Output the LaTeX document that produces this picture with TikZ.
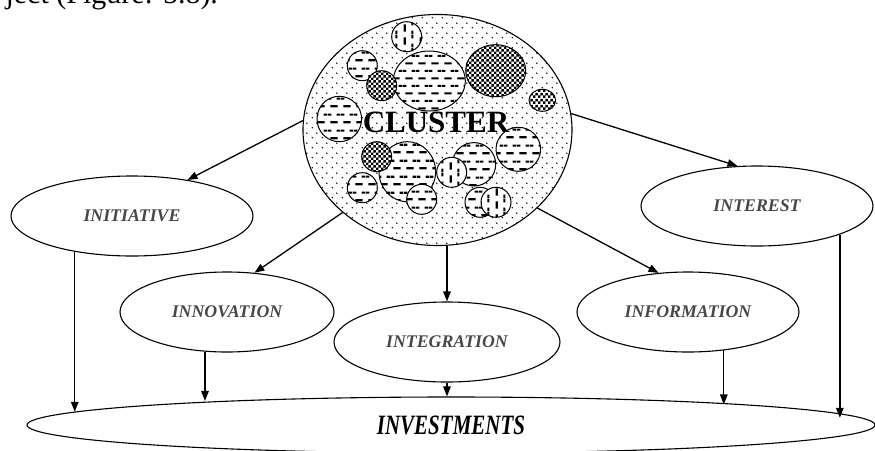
\documentclass[tikz,border=0pt]{standalone}
\usepackage{fontspec}
\setmainfont{Liberation Serif}
\usetikzlibrary{shapes.geometric,arrows.meta,patterns}

% fills for the cluster and its member firms
\pgfdeclarepatternformonly{clusterdots}{\pgfpointorigin}{\pgfqpoint{10pt}{10pt}}{\pgfqpoint{10pt}{10pt}}{%
  \pgfpathcircle{\pgfqpoint{2.5pt}{2.5pt}}{0.85pt}
  \pgfpathcircle{\pgfqpoint{7.5pt}{7.5pt}}{0.85pt}
  \pgfusepath{fill}}
\pgfdeclarepatternformonly{hdash}{\pgfpointorigin}{\pgfqpoint{12.6pt}{15.4pt}}{\pgfqpoint{12.6pt}{15.4pt}}{%
  \pgfpathrectangle{\pgfqpoint{2.5pt}{2.8pt}}{\pgfqpoint{7.3pt}{2.1pt}}
  \pgfpathrectangle{\pgfqpoint{8.8pt}{10.5pt}}{\pgfqpoint{3.8pt}{2.1pt}}
  \pgfpathrectangle{\pgfqpoint{0pt}{10.5pt}}{\pgfqpoint{3.5pt}{2.1pt}}
  \pgfusepath{fill}}
\pgfdeclarepatternformonly{vdash}{\pgfpointorigin}{\pgfqpoint{15.4pt}{12.6pt}}{\pgfqpoint{15.4pt}{12.6pt}}{%
  \pgfpathrectangle{\pgfqpoint{2.8pt}{2.5pt}}{\pgfqpoint{2.1pt}{7.3pt}}
  \pgfpathrectangle{\pgfqpoint{10.5pt}{8.8pt}}{\pgfqpoint{2.1pt}{3.8pt}}
  \pgfpathrectangle{\pgfqpoint{10.5pt}{0pt}}{\pgfqpoint{2.1pt}{3.5pt}}
  \pgfusepath{fill}}
\pgfdeclarepatternformonly{checker}{\pgfpointorigin}{\pgfqpoint{5.4pt}{5.4pt}}{\pgfqpoint{5.4pt}{5.4pt}}{%
  \pgfpathrectangle{\pgfpointorigin}{\pgfqpoint{2.7pt}{2.7pt}}
  \pgfpathrectangle{\pgfqpoint{2.7pt}{2.7pt}}{\pgfqpoint{2.7pt}{2.7pt}}
  \pgfusepath{fill}}

\begin{document}
\begin{tikzpicture}[x=1pt, y=-1pt, line join=round, >={Triangle[length=10pt,width=7.5pt]},
  idea/.style={draw, ellipse, line width=1.1pt, inner sep=0pt, minimum height=80pt,
    text=black!72, font=\fontsize{17.8}{20}\selectfont\bfseries\itshape},
  hd/.style={draw, line width=1pt, preaction={fill=white}, pattern=hdash},
  vd/.style={draw, line width=1pt, preaction={fill=white}, pattern=vdash},
  ck/.style={draw, line width=1pt, preaction={fill=white}, pattern=checker},
  link/.style={->, line width=1.3pt}]
\useasboundingbox (0,0) rectangle (875,450);
\node[anchor=base west, font=\fontsize{30}{36}\selectfont] (caption) at (2,3) {ject (Figure: 5.8).};

\node[draw, ellipse, line width=1.1pt, minimum width=269pt, minimum height=231pt,
  preaction={fill=white}, pattern=clusterdots] (cluster) at (437.5,130) {};
\draw[hd] (429.3,81) ellipse (36pt and 30pt);
\draw[ck] (495.7,70.7) ellipse (30pt and 26pt);
\draw[hd] (339.3,119) ellipse (22.3pt and 22.7pt);
\draw[hd] (362.3,65.7) circle (15pt);
\draw[ck] (381.7,85.7) circle (15pt);
\draw[vd] (406.7,36.7) circle (15pt);
\draw[ck] (542.3,100.3) ellipse (13.3pt and 11pt);
\draw[hd] (407.3,171.7) ellipse (28.3pt and 30pt);
\draw[hd] (474,164.3) circle (21.7pt);
\draw[hd] (518.3,149.3) ellipse (22.3pt and 22pt);
\draw[hd] (362.3,187.7) circle (15pt);
\draw[hd] (421.7,199.3) circle (15pt);
\draw[ck] (376.7,156.7) circle (15pt);
\draw[vd] (451.7,172.3) circle (15pt);
\draw[hd] (480,202.3) circle (15pt);
\draw[vd] (496,202.3) circle (15pt);
\node[font=\fontsize{31}{36}\selectfont\bfseries] (clusterlabel) at (436,122) {CLUSTER};

\node[idea, minimum width=242pt] (initiative) at (132,216) {INITIATIVE};
\node[idea, minimum width=232pt] (interest) at (757,206) {INTEREST};
\node[idea, minimum width=214pt] (innovation) at (227,312) {INNOVATION};
\node[idea, minimum width=226pt] (integration) at (447,342) {INTEGRATION};
\node[idea, minimum width=222pt] (information) at (688,312) {INFORMATION};
\node[draw, ellipse, line width=1.1pt, inner sep=0pt, minimum width=848pt, minimum height=56pt,
  font=\fontsize{28}{32}\selectfont\bfseries\itshape] (investments) at (451,425) {\scalebox{0.75}[1]{INVESTMENTS}};

\draw[link] (cluster.176.6) -- (initiative.33.5);
\draw[link] (cluster.221.3) -- (innovation.55.7);
\draw[link] (cluster.south -| integration.north) -- (integration.north);
\draw[link] (cluster.-38.1) -- (information.127);
\draw[link] (cluster.7.2) -- (interest.116.6);

\draw[link] (initiative.212.4) -- (initiative.212.4 |- investments.178.1);
\draw[link] (innovation.241.8) -- (innovation.241.8 |- investments.174.7);
\draw[link] (integration.south) -- (integration.south |- investments.north);
\draw[link] (information.-47.3) -- (information.-47.3 |- investments.4.5);
\draw[link] (interest.-19.9) -- (interest.-19.9 |- investments.1.72);
\end{tikzpicture}
\end{document}
